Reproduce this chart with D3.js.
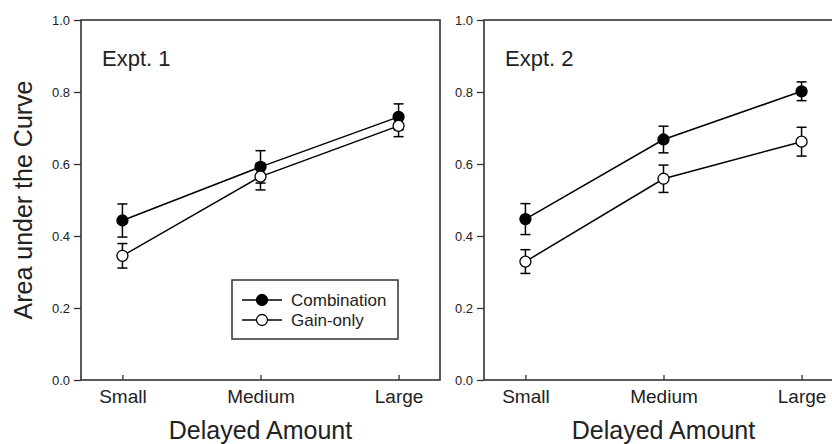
<!DOCTYPE html>
<html>
<head>
<meta charset="utf-8">
<script src="https://cdnjs.cloudflare.com/ajax/libs/d3/7.8.5/d3.min.js"></script>
<style>
  body { margin: 0; background: #fff; }
  svg { display: block; font-family: "Liberation Sans", Arial, sans-serif; }
</style>
</head>
<body>
<div id="chart"></div>
<script>
// Two panel AUC chart

const categories = ['Small', 'Medium', 'Large'];
const yTicks = [0, 0.2, 0.4, 0.6, 0.8, 1.0];
const seriesNames = ['Combination', 'Gain-only'];

const expt1Combination = [0.443, 0.592, 0.731];
const expt1CombinationErr = [0.046, 0.045, 0.036];
const expt1Gain = [0.345, 0.565, 0.706];
const expt1GainErr = [0.034, 0.037, 0.030];

const expt2Combination = [0.447, 0.668, 0.802];
const expt2CombinationErr = [0.043, 0.037, 0.026];
const expt2Gain = [0.329, 0.559, 0.662];
const expt2GainErr = [0.033, 0.038, 0.040];

const width = 832, height = 444;
const plotTop = 20, plotBottom = 380;
const ink = '#222';

const panels = [
  { label: 'Expt. 1', x0: 81, x1: 440, legend: true,
    series: [
      { vals: expt1Combination, errs: expt1CombinationErr, fill: '#000' },
      { vals: expt1Gain, errs: expt1GainErr, fill: '#fff' }
    ] },
  { label: 'Expt. 2', x0: 484, x1: 843, legend: false,
    series: [
      { vals: expt2Combination, errs: expt2CombinationErr, fill: '#000' },
      { vals: expt2Gain, errs: expt2GainErr, fill: '#fff' }
    ] }
];

const svg = d3.select('#chart').append('svg')
  .attr('width', width)
  .attr('height', height);

const y = d3.scaleLinear().domain([0, 1]).range([plotBottom, plotTop]);

panels.forEach(p => {
  const x = d3.scalePoint().domain(categories).range([p.x0, p.x1]).padding(0.3);
  const g = svg.append('g');

  // frame
  g.append('rect')
    .attr('x', p.x0).attr('y', plotTop)
    .attr('width', p.x1 - p.x0).attr('height', plotBottom - plotTop)
    .attr('fill', 'none').attr('stroke', '#333').attr('stroke-width', 1.6);

  // y axis
  const ya = g.append('g')
    .attr('transform', 'translate(' + p.x0 + ',0)')
    .call(d3.axisLeft(y).tickValues(yTicks).tickFormat(d3.format('.1f'))
      .tickSize(7).tickSizeOuter(0).tickPadding(4));
  ya.select('.domain').remove();
  ya.selectAll('line').attr('stroke', '#333').attr('stroke-width', 1.3);
  ya.selectAll('text').attr('font-size', 13).attr('fill', ink)
    .attr('font-family', '"Liberation Sans", Arial, sans-serif');

  // x axis, ticks point inward
  const xa = g.append('g')
    .attr('transform', 'translate(0,' + plotBottom + ')')
    .call(d3.axisBottom(x).tickSize(-5).tickSizeOuter(0).tickPadding(10));
  xa.select('.domain').remove();
  xa.selectAll('line').attr('stroke', '#333').attr('stroke-width', 1.3);
  xa.selectAll('text').attr('font-size', 19).attr('fill', ink)
    .attr('font-family', '"Liberation Sans", Arial, sans-serif');

  // panel label
  g.append('text')
    .attr('x', p.x0 + 21).attr('y', 66)
    .attr('font-size', 22).attr('fill', ink)
    .text(p.label);

  // x title
  g.append('text')
    .attr('x', x('Medium')).attr('y', 439)
    .attr('text-anchor', 'middle')
    .attr('font-size', 25).attr('fill', ink)
    .text('Delayed Amount');

  const line = d3.line().x((d, i) => x(categories[i])).y(d => y(d));

  p.series.forEach(s => {
    g.append('path')
      .attr('d', line(s.vals))
      .attr('fill', 'none').attr('stroke', '#000').attr('stroke-width', 1.5);

    const eb = g.append('g').selectAll('g')
      .data(s.vals.map((v, i) => ({ v: v, e: s.errs[i], c: categories[i] })))
      .enter().append('g');
    eb.append('line')
      .attr('x1', d => x(d.c)).attr('x2', d => x(d.c))
      .attr('y1', d => y(d.v - d.e)).attr('y2', d => y(d.v + d.e));
    eb.append('line')
      .attr('x1', d => x(d.c) - 5).attr('x2', d => x(d.c) + 5)
      .attr('y1', d => y(d.v + d.e)).attr('y2', d => y(d.v + d.e));
    eb.append('line')
      .attr('x1', d => x(d.c) - 5).attr('x2', d => x(d.c) + 5)
      .attr('y1', d => y(d.v - d.e)).attr('y2', d => y(d.v - d.e));
    eb.selectAll('line').attr('stroke', '#000').attr('stroke-width', 1.5);
  });

  // markers on top
  p.series.forEach(s => {
    g.append('g').selectAll('circle')
      .data(s.vals)
      .enter().append('circle')
      .attr('cx', (d, i) => x(categories[i]))
      .attr('cy', d => y(d))
      .attr('r', 5.5)
      .attr('fill', s.fill)
      .attr('stroke', '#000').attr('stroke-width', 1.3);
  });

  if (p.legend) {
    const lg = g.append('g');
    lg.append('rect')
      .attr('x', 232).attr('y', 280).attr('width', 166).attr('height', 59)
      .attr('fill', '#fff').attr('stroke', '#333').attr('stroke-width', 1.5);
    seriesNames.forEach((name, i) => {
      const ly = 300 + i * 20;
      lg.append('line')
        .attr('x1', 242).attr('x2', 282).attr('y1', ly).attr('y2', ly)
        .attr('stroke', '#000').attr('stroke-width', 1.5);
      lg.append('circle')
        .attr('cx', 262).attr('cy', ly).attr('r', 5.5)
        .attr('fill', p.series[i].fill)
        .attr('stroke', '#000').attr('stroke-width', 1.3);
      lg.append('text')
        .attr('x', 291).attr('y', ly + 6)
        .attr('font-size', 17).attr('fill', ink)
        .text(name);
    });
  }
});

// y title
svg.append('text')
  .attr('transform', 'translate(32,200) rotate(-90)')
  .attr('text-anchor', 'middle')
  .attr('font-size', 25).attr('fill', ink)
  .text('Area under the Curve');
</script>
</body>
</html>
